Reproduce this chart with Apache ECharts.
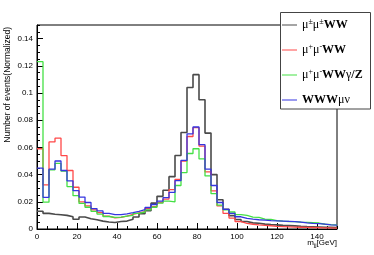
<!DOCTYPE html>
<html><head><meta charset="utf-8">
<script src="https://cdn.jsdelivr.net/npm/echarts@6/dist/echarts.min.js"></script>
<style>html,body{margin:0;padding:0;background:#fff}#c{width:374px;height:255px}</style>
</head><body><div id="c"></div>
<script>
// ---- data ----
const binWidth = 3;          // GeV per bin, bins start at 0
const xRange = [0, 150];
const yRange = [0, 0.15];
const seriesNames = ['ssWW', 'osWW', 'osWWgZ', 'WWWmv'];
const ssWW = [0.0130,0.0115,0.0108,0.0105,0.0100,0.0090,0.0072,0.0088,0.0075,0.0068,
              0.0058,0.0052,0.0048,0.0055,0.0058,0.0072,0.0088,0.0112,0.0135,0.0190,
              0.0240,0.0285,0.0385,0.0540,0.0710,0.1040,0.1135,0.0950,0.0705,0.0400,
              0.0215,0.0145,0.0098,0.0070,0.0055,0.0045,0.0042,0.0036,0.0032,0.0030,
              0.0027,0.0025,0.0023,0.0020,0.0018,0.0017,0.0015,0.0013,0.0012,0.0010];
const osWW = [0.0590,0.0325,0.0640,0.0668,0.0540,0.0430,0.0307,0.0200,0.0170,0.0140,
              0.0120,0.0095,0.0082,0.0085,0.0095,0.0108,0.0118,0.0128,0.0150,0.0165,
              0.0195,0.0220,0.0290,0.0365,0.0500,0.0680,0.0745,0.0610,0.0420,0.0280,
              0.0170,0.0115,0.0080,0.0055,0.0042,0.0035,0.0030,0.0027,0.0024,0.0020,
              0.0018,0.0016,0.0014,0.0013,0.0012,0.0011,0.0010,0.0009,0.0008,0.0006];
const osWWgZ = [0.1230,0.0197,0.0435,0.0482,0.0425,0.0312,0.0245,0.0188,0.0160,0.0130,
              0.0110,0.0092,0.0085,0.0088,0.0095,0.0100,0.0115,0.0125,0.0140,0.0160,
              0.0190,0.0205,0.0200,0.0320,0.0415,0.0555,0.0590,0.0515,0.0390,0.0260,
              0.0175,0.0140,0.0125,0.0105,0.0100,0.0088,0.0085,0.0072,0.0070,0.0062,
              0.0058,0.0055,0.0054,0.0050,0.0048,0.0046,0.0044,0.0035,0.0032,0.0030];
const WWWmv = [0.0447,0.0233,0.0440,0.0500,0.0430,0.0354,0.0282,0.0235,0.0195,0.0150,
              0.0133,0.0115,0.0105,0.0105,0.0112,0.0120,0.0130,0.0142,0.0158,0.0180,
              0.0205,0.0230,0.0270,0.0355,0.0505,0.0700,0.0750,0.0620,0.0440,0.0320,
              0.0195,0.0145,0.0115,0.0090,0.0078,0.0072,0.0068,0.0065,0.0062,0.0060,
              0.0058,0.0056,0.0054,0.0050,0.0045,0.0042,0.0040,0.0036,0.0030,0.0028];
const xMajor = 20, xMinor = 5, yMajor = 0.02, yMinor = 0.005;

// ---- chart ----
const colors = {ssWW:'#4a4a4a', osWW:'#ff4848', osWWgZ:'#44e044', WWWmv:'#3535e0'};
const widths = {ssWW:1.6, osWW:1.3, osWWgZ:1.3, WWWmv:1.3};
const legendRich = {
  ssWW:  '{n|μ}{s|±}{n|μ}{s|±}{b|WW}',
  osWW:  '{n|μ}{s|+}{n|μ}{s|-}{b|WW}',
  osWWgZ:'{n|μ}{s|+}{n|μ}{s|-}{b|WW}{n|γ}{b|/Z}',
  WWWmv: '{b|WWW}{n|μν}'
};
const valuesByName = {ssWW, osWW, osWWgZ, WWWmv};
function steps(vals){
  const pts = vals.map((v,i)=>[xRange[0]+i*binWidth, v]);
  pts.push([xRange[0]+vals.length*binWidth, vals[vals.length-1]]);
  return pts;
}
const FONT = 'Liberation Sans, Arial, sans-serif';
const SERIF = 'Liberation Serif, Times New Roman, serif';
const chart = echarts.init(document.getElementById('c'), null, {renderer:'canvas'});
chart.setOption({
  animation:false,
  backgroundColor:'#fff',
  grid:{left:37, top:25, width:300, height:204, show:true, borderColor:'#000', borderWidth:1, backgroundColor:'transparent'},
  xAxis:[
    {type:'value', min:xRange[0], max:xRange[1], interval:xMajor, position:'bottom',
     axisLine:{show:true, onZero:false, lineStyle:{color:'#000', width:1}},
     axisTick:{show:true, inside:true, length:6, lineStyle:{color:'#000'}},
     axisLabel:{show:true, color:'#000', fontFamily:FONT, fontSize:8, margin:4, showMaxLabel:false},
     splitLine:{show:false}},
    {type:'value', min:xRange[0], max:xRange[1], interval:xMinor, position:'bottom',
     axisLine:{show:false, onZero:false}, axisTick:{show:true, inside:true, length:3, lineStyle:{color:'#000'}},
     axisLabel:{show:false}, splitLine:{show:false}}
  ],
  yAxis:[
    {type:'value', min:yRange[0], max:yRange[1], interval:yMajor, position:'left',
     axisLine:{show:true, onZero:false, lineStyle:{color:'#000', width:1}},
     axisTick:{show:true, inside:true, length:6, lineStyle:{color:'#000'}},
     axisLabel:{show:true, color:'#000', fontFamily:FONT, fontSize:8, margin:4, showMaxLabel:false,
       formatter:v=>String(Math.round(v*100)/100)},
     splitLine:{show:false}},
    {type:'value', min:yRange[0], max:yRange[1], interval:yMinor, position:'left',
     axisLine:{show:false, onZero:false}, axisTick:{show:true, inside:true, length:3, lineStyle:{color:'#000'}},
     axisLabel:{show:false}, splitLine:{show:false}}
  ],
  legend:{
    orient:'vertical', left:282, top:18, padding:0, itemGap:11,
    itemWidth:15, itemHeight:1, icon:'rect',
    data:seriesNames,
    formatter:name=>legendRich[name],
    textStyle:{color:'#000', fontFamily:SERIF, fontSize:12, lineHeight:14,
      rich:{
        n:{fontFamily:SERIF, fontSize:12, lineHeight:14, color:'#000'},
        b:{fontFamily:SERIF, fontSize:12, fontWeight:'bold', lineHeight:14, color:'#000'},
        s:{fontFamily:SERIF, fontSize:8, lineHeight:9, verticalAlign:'top', color:'#000'}
      }}
  },
  graphic:[
    {type:'rect', z:3, shape:{x:280.5, y:12.5, width:90, height:96.5},
     style:{fill:'#fff', stroke:'#444', lineWidth:1}},
    {type:'text', x:8, y:27, rotation:Math.PI/2,
     style:{text:'Number of events(Normalized)', font:'8.5px '+FONT, align:'right', verticalAlign:'middle', fill:'#000'}},
    {type:'text', x:337, y:243,
     style:{text:'{m|m}{j|jj}{m|[GeV]}', align:'right', verticalAlign:'middle', fill:'#000',
       rich:{m:{fontFamily:FONT, fontSize:8, lineHeight:10, verticalAlign:'middle', fill:'#000'},
             j:{fontFamily:FONT, fontSize:6, lineHeight:10, verticalAlign:'bottom', fill:'#000'}}}}
  ],
  series: seriesNames.map(n=>({
    name:n, type:'line', step:'end', xAxisIndex:0, yAxisIndex:0,
    data:steps(valuesByName[n]), showSymbol:false, symbol:'none', silent:true,
    color:colors[n], lineStyle:{color:colors[n], width:widths[n]}
  }))
});
</script></body></html>
